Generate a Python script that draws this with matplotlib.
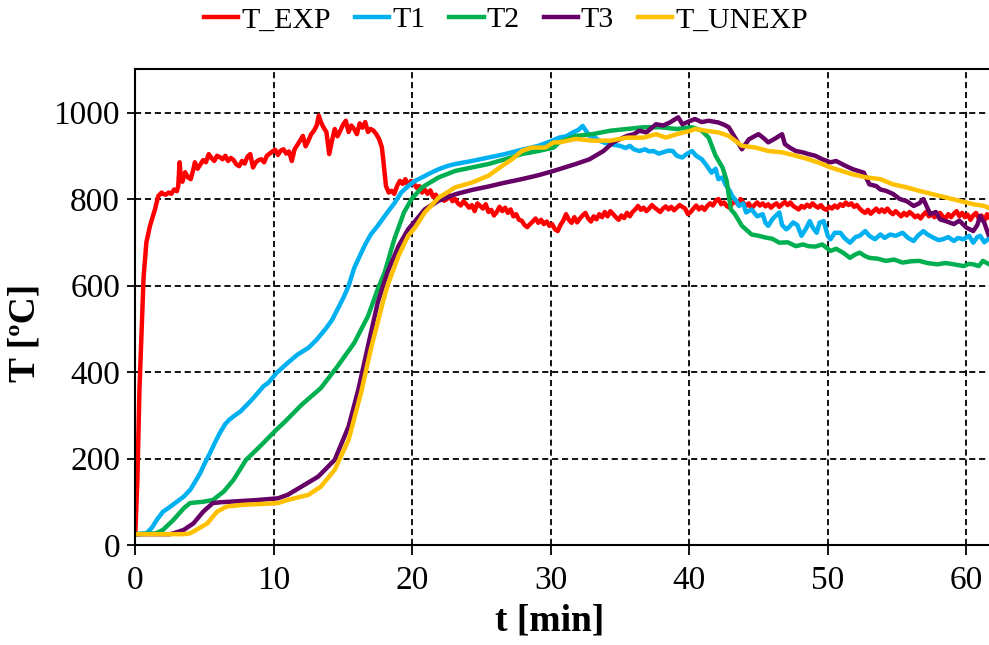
import matplotlib
matplotlib.use("Agg")
import matplotlib.pyplot as plt

plt.rcParams['font.family'] = ['Liberation Serif', 'DejaVu Serif']

# ---------------- data ----------------
t_exp = [
    0, 0.15, 0.3, 0.46, 0.6, 0.8, 1.06, 1.42, 1.66, 1.9,
    2.0, 2.2, 2.4, 2.6, 2.8, 3.0, 3.1, 3.2, 3.3, 3.4,
    3.6, 3.8, 4.0, 4.2, 4.3, 4.5, 4.7, 4.9, 5.1, 5.3,
    5.5, 5.7, 5.9, 6.1, 6.3, 6.5, 6.7, 6.9, 7.1, 7.3,
    7.5, 7.7, 7.9, 8.1, 8.3, 8.5, 8.7, 8.9, 9.1, 9.3,
    9.5, 9.7, 9.9, 10.1, 10.3, 10.5, 10.7, 10.9, 11.1, 11.3,
    11.5, 11.7, 11.9, 12.1, 12.3, 12.5, 12.7, 12.9, 13.1, 13.25,
    13.4, 13.6, 13.8, 14.0, 14.2, 14.4, 14.6, 14.8, 15.0, 15.2,
    15.4, 15.6, 15.8, 16.0, 16.2, 16.4, 16.6, 16.8, 17.0, 17.2,
    17.4, 17.6, 17.8, 17.9, 18.1, 18.3, 18.5, 18.7, 18.9, 19.1,
    19.3, 19.5, 19.7, 19.9, 20.1, 20.3, 20.5, 20.7, 20.9, 21.1,
    21.3, 21.5, 21.7, 21.9, 22.1, 22.3, 22.5, 22.7, 22.9, 23.1,
    23.3, 23.5, 23.7, 23.9, 24.1, 24.3, 24.5, 24.7, 24.9, 25.1,
    25.3, 25.5, 25.7, 25.9, 26.1, 26.3, 26.5, 26.7, 26.9, 27.1,
    27.3, 27.5, 27.7, 27.9, 28.1, 28.3, 28.5, 28.7, 28.9, 29.1,
    29.3, 29.5, 29.7, 29.9, 30.1, 30.3, 30.5, 30.7, 30.9, 31.1,
    31.3, 31.5, 31.7, 31.9, 32.1, 32.3, 32.5, 32.7, 32.9, 33.1,
    33.3, 33.5, 33.7, 33.9, 34.1, 34.3, 34.5, 34.7, 34.9, 35.1,
    35.3, 35.5, 35.7, 35.9, 36.1, 36.3, 36.5, 36.7, 36.9, 37.1,
    37.3, 37.5, 37.7, 37.9, 38.1, 38.3, 38.5, 38.7, 38.9, 39.1,
    39.3, 39.5, 39.7, 39.9, 40.1, 40.3, 40.5, 40.7, 40.9, 41.1,
    41.3, 41.5, 41.7, 41.9, 42.1, 42.3, 42.5, 42.7, 42.9, 43.1,
    43.3, 43.5, 43.7, 43.9, 44.1, 44.3, 44.5, 44.7, 44.9, 45.1,
    45.3, 45.5, 45.7, 45.9, 46.1, 46.3, 46.5, 46.7, 46.9, 47.1,
    47.3, 47.5, 47.7, 47.9, 48.1, 48.3, 48.5, 48.7, 48.9, 49.1,
    49.3, 49.5, 49.7, 49.9, 50.1, 50.3, 50.5, 50.7, 50.9, 51.1,
    51.3, 51.5, 51.7, 51.9, 52.1, 52.3, 52.5, 52.7, 52.9, 53.1,
    53.3, 53.5, 53.7, 53.9, 54.1, 54.3, 54.5, 54.7, 54.9, 55.1,
    55.3, 55.5, 55.7, 55.9, 56.1, 56.3, 56.5, 56.7, 56.9, 57.1,
    57.3, 57.5, 57.7, 57.9, 58.1, 58.3, 58.5, 58.7, 58.9, 59.1,
    59.3, 59.5, 59.7, 59.9, 60.1, 60.3, 60.5, 60.7, 60.9, 61.1,
    61.3, 61.5, 61.6]
T_EXP = [
    25, 150, 360, 500, 620, 700, 738, 776, 807, 815,
    812, 810, 815, 812, 822, 818, 830, 885, 845, 840,
    862, 850, 846, 870, 885, 870, 880, 890, 885, 904,
    895, 888, 900, 897, 892, 900, 888, 895, 890, 880,
    876, 888, 882, 898, 904, 873, 885, 890, 892, 885,
    900, 905, 910, 914, 902, 912, 915, 905, 910, 888,
    915, 925, 935, 946, 922, 935, 950, 958, 970, 993,
    978, 965, 955, 904, 935, 962, 945, 958, 972, 981,
    955, 970, 962, 950, 975, 965, 978, 955, 962, 958,
    950, 939, 920, 892, 830, 815, 819, 812, 830, 842,
    835, 846, 830, 842, 838, 826, 830, 815, 822, 812,
    820, 805, 810, 798, 805, 796, 800, 808, 795, 800,
    790, 785, 795, 788, 780, 786, 772, 790, 784, 778,
    788, 770, 775, 762, 770, 782, 772, 780, 768, 776,
    760, 765, 752, 750, 740, 735, 742, 748, 755, 745,
    752, 742, 748, 738, 742, 730, 726, 740, 750, 765,
    752, 745, 758, 746, 755, 762, 768, 755, 748, 760,
    753, 765, 758, 770, 760, 772, 765, 758, 752, 762,
    756, 768, 760, 770, 776, 784, 775, 780, 772, 778,
    786, 780, 775, 770, 778, 783, 776, 782, 774, 780,
    786, 782, 778, 765, 770, 778, 785, 776, 782, 775,
    784, 790, 785, 795, 800, 788, 792, 784, 780, 790,
    795, 788, 800, 792, 784, 790, 778, 786, 792, 785,
    790, 783, 788, 780, 786, 790, 782, 788, 793, 786,
    792, 784, 780, 776, 784, 780, 787, 782, 790, 784,
    780, 786, 778, 775, 782, 778, 785, 780, 788, 784,
    792, 786, 790, 782, 786, 778, 772, 768, 775, 766,
    772, 778, 770, 776, 770, 778, 770, 765, 772, 766,
    760, 768, 762, 770, 765, 758, 762, 755, 764, 770,
    760, 766, 758, 762, 768, 760, 755, 765, 758, 766,
    772, 760, 768, 758, 764, 752, 762, 768, 755, 762,
    750, 765, 758]

t_1 = [
    0, 0.8, 1.2, 1.55, 2.0, 2.5, 3.0, 3.5, 3.95, 4.3,
    4.7, 5.0, 5.4, 5.8, 6.1, 6.5, 6.8, 7.2, 7.6, 8.0,
    8.3, 8.8, 9.25, 9.6, 10.2, 11.0, 11.7, 12.5, 13.1, 13.7,
    14.2, 14.6, 15.0, 15.4, 15.8, 16.2, 16.6, 17.0, 17.5, 18.2,
    18.7, 19.2, 19.7, 20.2, 20.7, 21.3, 21.9, 22.5, 23.1, 24.3,
    25.5, 26.7, 27.9, 29.1, 30.1, 30.6, 31.1, 31.6, 32.0, 32.3,
    32.6, 32.8, 33.2, 33.5, 33.9, 34.3, 34.6, 35.0, 35.4, 35.7,
    36.0, 36.4, 36.8, 37.1, 37.4, 37.8, 38.1, 38.5, 38.8, 39.1,
    39.5, 39.8, 40.2, 40.5, 40.9, 41.2, 41.6, 41.9, 42.1, 42.4,
    42.6, 42.9, 43.1, 43.4, 43.6, 43.9, 44.1, 44.5, 44.9, 45.3,
    45.5, 45.7, 46.0, 46.2, 46.5, 46.7, 47.0, 47.2, 47.5, 47.8,
    48.1, 48.4, 48.7, 48.9, 49.2, 49.4, 49.7, 50.0, 50.2, 50.5,
    50.9, 51.2, 51.6, 52.0, 52.3, 52.7, 53.0, 53.4, 53.8, 54.1,
    54.5, 54.9, 55.4, 55.8, 56.2, 56.5, 56.9, 57.2, 57.6, 58.0,
    58.3, 58.7, 59.1, 59.4, 59.8, 60.2, 60.5, 60.8, 61.0, 61.3,
    61.6]
T1 = [
    25, 27, 40, 58, 77, 88, 100, 112, 127, 145,
    167, 188, 213, 240, 259, 280, 290, 300, 309, 322,
    332, 350, 367, 375, 398, 421, 440, 456, 475, 498,
    520, 545, 570, 599, 640, 668, 695, 718, 738, 769,
    790, 815, 830, 842, 850, 860, 869, 876, 881, 888,
    896, 904, 914, 923, 935, 942, 945, 954, 960, 969,
    955, 946, 942, 935, 930, 927, 925, 923, 918, 923,
    915, 911, 915, 910, 911, 905, 908, 912, 911, 900,
    896, 904, 911, 900, 892, 880, 861, 870, 846, 850,
    834, 820, 807, 795, 784, 790, 769, 776, 760, 765,
    745, 738, 753, 760, 769, 740, 730, 735, 746, 740,
    715, 730, 749, 735, 722, 745, 749, 715, 707, 722,
    722, 710, 699, 712, 715, 726, 715, 707, 718, 710,
    718, 715, 722, 710, 703, 715, 726, 718, 711, 705,
    707, 712, 703, 710, 707, 715, 699, 712, 715, 700,
    708]

t_2 = [
    0, 1.5, 2.0, 2.75, 3.5, 3.95, 4.9, 5.6, 6.4, 7.1,
    8.0, 9.0, 10.2, 10.8, 12.0, 13.4, 14.6, 15.8, 16.8, 17.5,
    18.0, 18.7, 19.4, 19.95, 20.7, 21.9, 23.1, 24.3, 25.5, 26.7,
    27.9, 29.1, 30.2, 30.6, 31.8, 33.0, 34.3, 35.5, 36.7, 37.9,
    39.1, 40.2, 40.9, 41.4, 41.9, 42.4, 42.7, 43.0, 43.3, 43.8,
    44.5, 45.0, 45.5, 46.0, 46.5, 47.1, 47.7, 48.2, 48.6, 49.1,
    49.6, 50.2, 50.6, 51.1, 51.6, 52.0, 52.3, 52.7, 53.0, 53.6,
    54.2, 54.8, 55.4, 56.0, 56.6, 57.2, 57.9, 58.5, 59.1, 59.8,
    60.2, 60.5, 60.9, 61.2, 61.6]
T2 = [
    25, 27, 35, 58, 85, 97, 100, 104, 124, 151,
    197, 228, 267, 285, 324, 363, 413, 467, 529, 591,
    630, 707, 769, 800, 827, 850, 865, 873, 881, 892,
    904, 911, 919, 931, 946, 950, 958, 962, 966, 966,
    962, 966, 958, 942, 900, 873, 842, 776, 765, 738,
    718, 715, 711, 708, 699, 700, 691, 695, 691, 690,
    695, 680, 685, 676, 664, 672, 676, 668, 664, 662,
    657, 660, 653, 656, 657, 652, 649, 652, 649, 645,
    650, 649, 645, 657, 650]

t_3 = [
    0, 2.5, 2.75, 3.5, 4.2, 4.9, 5.6, 6.2, 6.8, 8.8,
    10.3, 11.0, 12.0, 13.2, 14.4, 15.4, 16.1, 16.8, 17.5, 18.2,
    19.0, 19.7, 20.2, 20.9, 21.9, 23.1, 24.3, 25.5, 26.7, 27.9,
    29.1, 30.2, 30.6, 31.8, 32.8, 33.8, 34.5, 35.5, 36.0, 36.4,
    36.9, 37.3, 37.6, 38.1, 38.6, 39.2, 39.5, 40.1, 40.4, 40.9,
    41.4, 42.1, 42.5, 42.85, 43.3, 43.8, 44.3, 44.7, 45.0, 45.4,
    45.7, 46.2, 46.7, 46.9, 47.3, 47.7, 48.2, 48.6, 49.1, 49.6,
    50.2, 50.6, 51.2, 51.8, 52.6, 53.0, 53.5, 53.8, 54.2, 54.7,
    55.2, 55.7, 56.2, 56.6, 56.9, 57.4, 57.8, 58.1, 58.6, 59.1,
    59.5, 60.0, 60.5, 60.8, 61.0, 61.3, 61.6]
T3 = [
    25, 25, 27, 35, 50, 77, 97, 99, 100, 104,
    108, 116, 135, 158, 197, 274, 359, 460, 560, 630,
    691, 730, 749, 776, 796, 811, 821, 829, 838, 846,
    855, 865, 869, 881, 892, 911, 931, 946, 950, 958,
    954, 965, 973, 970, 977, 989, 973, 981, 985, 978,
    981, 977, 972, 966, 942, 915, 938, 945, 950, 940,
    931, 940, 950, 927, 918, 911, 908, 904, 900, 892,
    885, 888, 878, 869, 861, 834, 830, 822, 819, 812,
    800, 795, 784, 790, 800, 765, 770, 753, 748, 742,
    750, 734, 726, 740, 761, 745, 718]

t_unexp = [
    0, 3.5, 3.95, 4.4, 5.2, 5.9, 6.6, 7.8, 9.25, 10.3,
    11.0, 12.5, 13.4, 14.4, 15.4, 16.3, 17.0, 17.8, 18.2, 19.0,
    19.7, 20.2, 20.9, 21.9, 23.1, 24.3, 25.5, 26.5, 27.2, 27.9,
    28.6, 29.6, 30.2, 30.6, 31.8, 33.0, 34.3, 35.5, 36.7, 37.6,
    38.3, 39.1, 40.1, 40.4, 41.2, 42.1, 42.85, 43.8, 44.8, 45.7,
    46.7, 47.7, 48.6, 49.6, 50.2, 50.6, 51.8, 52.8, 53.8, 54.7,
    55.7, 56.6, 57.6, 58.6, 59.5, 60.5, 61.3, 61.6]
T_UNEXP = [
    25, 25, 27, 35, 50, 77, 89, 93, 95, 97,
    104, 116, 135, 174, 243, 352, 452, 552, 599, 668,
    715, 734, 769, 803, 827, 838, 854, 877, 892, 911,
    919, 919, 931, 931, 939, 935, 935, 942, 942, 950,
    942, 950, 958, 962, 958, 954, 946, 923, 919, 911,
    908, 900, 892, 881, 873, 869, 857, 850, 846, 834,
    827, 819, 811, 803, 796, 788, 784, 780]

series_names = ["T_EXP", "T1", "T2", "T3", "T_UNEXP"]
series_colors = ["#FF0000", "#00B0F0", "#00B050", "#660066", "#FFC000"]
x_ticks = [0, 10, 20, 30, 40, 50, 60]
y_ticks = [0, 200, 400, 600, 800, 1000]

# ---------------- figure ----------------
W, H = 989, 645
fig = plt.figure(figsize=(W / 100, H / 100), dpi=100)
ax = fig.add_axes([135.3 / W, 1 - 545 / H, (W - 135.3) / W, (545 - 69.3) / H])

data = [(t_exp, T_EXP), (t_1, T1), (t_2, T2), (t_3, T3), (t_unexp, T_UNEXP)]
for (tt, vv), name, col in zip(data, series_names, series_colors):
    assert len(tt) == len(vv), name
    ax.plot(tt, vv, color=col, lw=3.2, label=name, solid_joinstyle='round')

ax.set_xlim(0, 61.64)
ax.set_ylim(0, 1100)
ax.set_xticks(x_ticks)
ax.set_yticks(y_ticks)
ax.grid(True, color='black', linestyle=(0, (3.4, 2.1)), linewidth=1.3)
ax.set_axisbelow(True)

for s in ['left', 'bottom', 'top']:
    ax.spines[s].set_linewidth(1.5)
ax.spines['right'].set_visible(False)

ax.tick_params(axis='both', direction='out', labelsize=24, width=1.3)
ax.tick_params(axis='x', length=7, pad=8)
ax.tick_params(axis='y', length=6, pad=5)

ax.set_xlabel("t [min]", fontsize=27, fontweight='bold')
ax.set_ylabel("T [ºC]", fontsize=27, fontweight='bold')
ax.xaxis.set_label_coords(0.485, -0.122)
ax.yaxis.set_label_coords(-0.109, 0.446)

fig.legend(loc='center', bbox_to_anchor=(506 / W, 1 - 20 / H), ncol=5,
           frameon=False, fontsize=21.5, handlelength=1.15,
           handletextpad=0.1, columnspacing=0.8, borderaxespad=0)

fig.savefig("out.png", dpi=100)
